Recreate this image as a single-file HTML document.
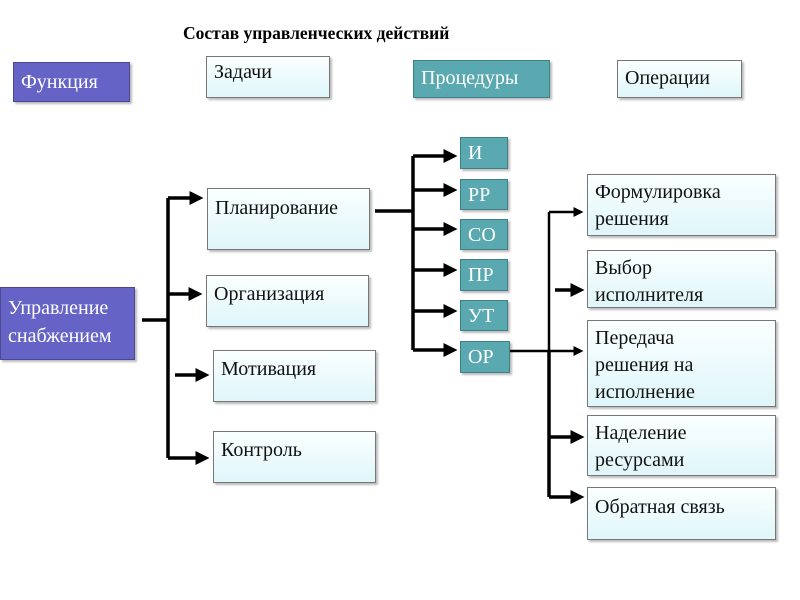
<!DOCTYPE html>
<html><head><meta charset="utf-8"><style>
body{margin:0;width:800px;height:600px;background:#fff;position:relative;overflow:hidden;font-family:"Liberation Serif","DejaVu Serif",serif}
.b{position:absolute;box-sizing:border-box;font-size:20px;line-height:27px;padding:2px 7px;color:#111;white-space:nowrap}
.l{background:linear-gradient(#fbffff,#dff6fa);border:1px solid #777;box-shadow:2px 2px 2px #bbb}
.p{background:#6663c6;color:#fff;border:1px solid #4a4890;box-shadow:2px 2px 2px #bbb}
.t{background:#5aa8b0;color:#fff;border:1px solid #3f7f86;box-shadow:2px 2px 2px #bbb}
.s{padding:2px 7px;font-size:20px}
</style></head><body>
<div style="position:absolute;left:183px;top:23px;font-size:17.5px;font-weight:bold;white-space:nowrap">Состав управленческих действий</div>
<div class="b p" style="left:13px;top:62px;width:117px;height:40px;padding-top:6px">Функция</div>
<div class="b l" style="left:206px;top:56px;width:124px;height:42px">Задачи</div>
<div class="b t" style="left:413px;top:60px;width:137px;height:38px;padding-top:4px">Процедуры</div>
<div class="b l" style="left:617px;top:60px;width:125px;height:38px;padding-top:4px">Операции</div>
<div class="b l" style="left:207px;top:188px;width:163px;height:62px;padding-top:6px">Планирование</div>
<div class="b l" style="left:206px;top:275px;width:163px;height:52px;padding-top:5px">Организация</div>
<div class="b l" style="left:213px;top:350px;width:163px;height:52px;padding-top:5px">Мотивация</div>
<div class="b l" style="left:213px;top:431px;width:163px;height:52px;padding-top:5px">Контроль</div>
<div class="b p" style="left:0;top:287px;width:135px;height:73px;padding-top:6px;line-height:28px">Управление<br>снабжением</div>
<div class="b t s" style="left:460px;top:137px;width:48px;height:32px">И</div>
<div class="b t s" style="left:460px;top:179px;width:48px;height:31px">РР</div>
<div class="b t s" style="left:460px;top:219px;width:48px;height:31px">СО</div>
<div class="b t s" style="left:460px;top:259px;width:48px;height:32px">ПР</div>
<div class="b t s" style="left:460px;top:300px;width:48px;height:31px">УТ</div>
<div class="b t s" style="left:460px;top:341px;width:50px;height:32px">ОР</div>
<div class="b l" style="left:587px;top:174px;width:189px;height:62px;padding-top:4px">Формулировка<br>решения</div>
<div class="b l" style="left:587px;top:250px;width:189px;height:58px;padding-top:4px">Выбор<br>исполнителя</div>
<div class="b l" style="left:587px;top:320px;width:189px;height:87px;padding-top:4px">Передача<br>решения на<br>исполнение</div>
<div class="b l" style="left:587px;top:415px;width:189px;height:61px;padding-top:4px">Наделение<br>ресурсами</div>
<div class="b l" style="left:587px;top:487px;width:189px;height:53px;padding-top:6px">Обратная связь</div>
<svg width="800" height="600" style="position:absolute;left:0;top:0">
<defs><marker id="a" markerWidth="4" markerHeight="4" refX="3" refY="2" orient="auto"><path d="M0,0L4,2L0,4z" fill="#000"/></marker></defs>
<g stroke="#000" stroke-width="3.5" fill="none">
<path d="M142 320H168M168 198V458"/>
<path d="M168 198H200" marker-end="url(#a)"/>
<path d="M168 294H199" marker-end="url(#a)"/>
<path d="M175 375H206" marker-end="url(#a)"/>
<path d="M168 458H206" marker-end="url(#a)"/>
<path d="M375 211H413M413 156V350"/>
<path d="M413 156H454" marker-end="url(#a)"/>
<path d="M413 190H454" marker-end="url(#a)"/>
<path d="M413 229H454" marker-end="url(#a)"/>
<path d="M413 270H454" marker-end="url(#a)"/>
<path d="M413 311H454" marker-end="url(#a)"/>
<path d="M413 350H454" marker-end="url(#a)"/>
<path d="M549 351V497"/>
<path d="M549 437H581" marker-end="url(#a)"/>
<path d="M549 497H581" marker-end="url(#a)"/>
<path d="M555 290H581" marker-end="url(#a)"/>
</g>
<g stroke="#000" stroke-width="2.5" fill="none">
<path d="M549 212V351"/>
<path d="M549 212H581" marker-end="url(#a)"/>
<path d="M510 351H581" marker-end="url(#a)"/>
</g>
</svg>
</body></html>
